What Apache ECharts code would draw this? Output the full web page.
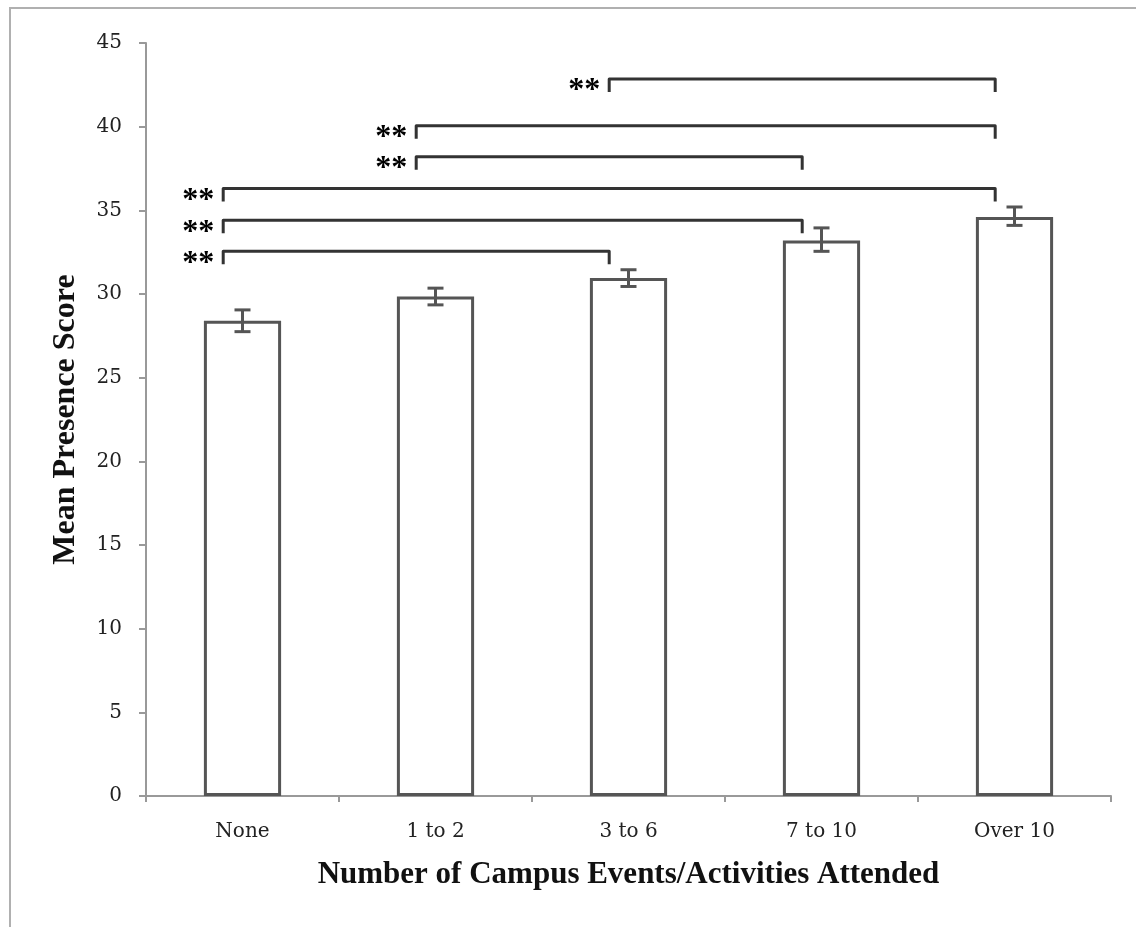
<!DOCTYPE html>
<html>
<head>
<meta charset="utf-8">
<script src="https://cdn.jsdelivr.net/npm/echarts@6/dist/echarts.min.js"></script>
<style>
html,body{margin:0;padding:0;background:#fff;}
#chart{width:1136px;height:927px;}
</style>
</head>
<body>
<div id="chart"></div>
<script>
// ---- data ----
const categories = ['None', '1 to 2', '3 to 6', '7 to 10', 'Over 10'];
const meanScores = [28.4, 29.85, 30.95, 33.2, 34.6];
const errLow = [27.75, 29.35, 30.45, 32.55, 34.1];
const errHigh = [29.05, 30.35, 31.45, 33.95, 35.2];
const yTicks = { min: 0, max: 45, interval: 5 };
// significance brackets: from category index, to category index, level (y value), label
const bracketFrom = [2, 1, 1, 0, 0, 0];
const bracketTo = [4, 4, 3, 4, 3, 2];
const bracketLevel = [42.85, 40.05, 38.2, 36.3, 34.4, 32.55];
const bracketLabel = ['**', '**', '**', '**', '**', '**'];

const errData = categories.map((c, i) => [i, errLow[i], errHigh[i]]);
const bracketData = bracketFrom.map((f, i) => [f, bracketTo[i], bracketLevel[i], bracketLabel[i]]);

const chart = echarts.init(document.getElementById('chart'));
const serif = '"Liberation Serif", "Times New Roman", serif';
const labelFont = '"DejaVu Serif", serif';

chart.setOption({
  backgroundColor: '#fff',
  animation: false,
  grid: { left: 146, right: 25, top: 43, bottom: 131, containLabel: false },
  graphic: [
    { type: 'polyline', shape: { points: [[10, 927], [10, 8], [1136, 8]] },
      style: { stroke: '#b0b0b0', lineWidth: 2, fill: null }, z: -1 }
  ],
  xAxis: {
    type: 'category',
    data: categories,
    boundaryGap: true,
    name: 'Number of Campus Events/Activities Attended',
    nameLocation: 'middle',
    nameGap: 63,
    nameTextStyle: { fontFamily: serif, fontWeight: 'bold', fontSize: 31, color: '#111' },
    axisLine: { lineStyle: { color: '#999', width: 2 } },
    axisTick: { show: true, alignWithLabel: false, length: 6, lineStyle: { color: '#999', width: 2 } },
    axisLabel: { fontFamily: labelFont, fontSize: 20, color: '#222', margin: 26 },
    splitLine: { show: false }
  },
  yAxis: {
    type: 'value',
    min: yTicks.min, max: yTicks.max, interval: yTicks.interval,
    name: 'Mean Presence Score',
    nameLocation: 'middle',
    nameGap: 64,
    nameRotate: 90,
    nameTextStyle: { fontFamily: serif, fontWeight: 'bold', fontSize: 32, color: '#111' },
    axisLine: { show: true, lineStyle: { color: '#999', width: 2 } },
    axisTick: { show: true, inside: false, length: 7, lineStyle: { color: '#999', width: 2 } },
    axisLabel: { fontFamily: labelFont, fontSize: 20, color: '#222', margin: 24 },
    splitLine: { show: false }
  },
  series: [
    {
      type: 'bar',
      data: meanScores,
      barWidth: '40%',
      itemStyle: { color: '#fff', borderColor: '#555', borderWidth: 3 },
      z: 2
    },
    {
      type: 'custom',
      data: errData,
      encode: { x: 0, y: [1, 2] },
      z: 5,
      clip: false,
      renderItem: function (params, api) {
        const x = api.value(0);
        const lo = api.coord([x, api.value(1)]);
        const hi = api.coord([x, api.value(2)]);
        const hw = 8;
        const st = { stroke: '#555', lineWidth: 3 };
        return {
          type: 'group',
          children: [
            { type: 'line', shape: { x1: lo[0], y1: lo[1], x2: hi[0], y2: hi[1] }, style: st },
            { type: 'line', shape: { x1: lo[0] - hw, y1: lo[1], x2: lo[0] + hw, y2: lo[1] }, style: st },
            { type: 'line', shape: { x1: hi[0] - hw, y1: hi[1], x2: hi[0] + hw, y2: hi[1] }, style: st }
          ]
        };
      }
    },
    {
      type: 'custom',
      data: bracketData,
      encode: { x: [0, 1], y: 2 },
      z: 6,
      clip: false,
      renderItem: function (params, api) {
        const lvl = api.value(2);
        const p1 = api.coord([api.value(0), lvl]);
        const p2 = api.coord([api.value(1), lvl]);
        const off = -api.size([1, 0])[0] * 0.1;
        const drop = 13;
        const x1 = p1[0] + off, x2 = p2[0] + off, y = p1[1];
        return {
          type: 'group',
          children: [
            { type: 'polyline',
              shape: { points: [[x1, y + drop], [x1, y], [x2, y], [x2, y + drop]] },
              style: { stroke: '#333', lineWidth: 3, fill: null, lineJoin: 'round' } },
            { type: 'text',
              style: { text: bracketLabel[params.dataIndex], x: x1 - 9, y: y - 4,
                       align: 'right', verticalAlign: 'top',
                       font: 'bold 32px ' + serif, fill: '#000' } }
          ]
        };
      }
    }
  ]
});
</script>
</body>
</html>
